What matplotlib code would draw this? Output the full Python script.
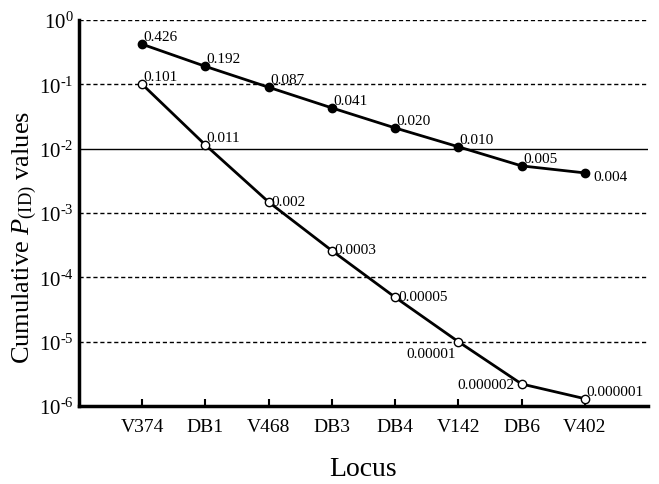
import matplotlib.pyplot as plt

plt.rcParams['font.family'] = 'Liberation Serif'
plt.rcParams['mathtext.fontset'] = 'custom'
plt.rcParams['mathtext.rm'] = 'Liberation Serif'
plt.rcParams['mathtext.it'] = 'Liberation Serif:italic'

loci = ['V374', 'DB1', 'V468', 'DB3', 'DB4', 'V142', 'DB6', 'V402']

# valores acumulados (circulos llenos)
filled_vals = [0.42, 0.19, 0.09, 0.043, 0.021, 0.0107, 0.0054, 0.0042]
filled_txt = ['0.426', '0.192', '0.087', '0.041', '0.020', '0.010', '0.005', '0.004']

# valores acumulados (circulos abiertos)
open_vals = [0.1, 0.0114, 0.00148, 0.00026, 0.000049, 0.00001, 0.0000022, 0.0000013]
open_txt = ['0.101', '0.011', '0.002', '0.0003', '0.00005', '0.00001', '0.000002', '0.000001']

exps = [-6, -5, -4, -3, -2, -1, 0]

x = list(range(1, len(loci) + 1))

fig = plt.figure(figsize=(6.59, 4.85), dpi=100)
ax = fig.add_axes([79 / 659, 1 - 407 / 485, (648 - 79) / 659, (407 - 21) / 485])

# lineas horizontales por decada
for e in exps[1:]:
    if e == -2:
        ax.axhline(10.0 ** e, color='black', lw=1.0, zorder=1)
    else:
        ax.axhline(10.0 ** e, color='black', lw=1.0, ls=(0, (3, 2)), zorder=1)

ax.plot(x, filled_vals, 'k-', lw=2, marker='o', ms=6, mfc='black', mec='black', zorder=3)
ax.plot(x, open_vals, 'k-', lw=2, marker='o', ms=6, mfc='white', mec='black', mew=1, zorder=3)

for xi, v, t in zip(x, filled_vals, filled_txt):
    if t == '0.004':
        ax.annotate(t, (xi, v), xytext=(6, -5), textcoords='offset points', fontsize=11)
    else:
        ax.annotate(t, (xi, v), xytext=(1, 3), textcoords='offset points', fontsize=11)

for xi, v, t in zip(x, open_vals, open_txt):
    if t == '0.00001':
        ax.annotate(t, (xi, v), xytext=(-2, -11), textcoords='offset points', fontsize=11, ha='right')
    elif t == '0.000002':
        ax.annotate(t, (xi, v), xytext=(-5, -3), textcoords='offset points', fontsize=11, ha='right')
    elif t in ('0.101', '0.011', '0.000001'):
        ax.annotate(t, (xi, v), xytext=(1, 3), textcoords='offset points', fontsize=11)
    else:
        ax.annotate(t, (xi, v), xytext=(2, -2), textcoords='offset points', fontsize=11)

ax.set_yscale('log')
ax.set_ylim(1e-6, 1)
ax.set_xlim(0, 9)
ax.set_xticks(x)
ax.set_xticklabels(loci, fontsize=14)
ax.set_yticks([10.0 ** e for e in exps])
ax.set_yticklabels([r'$10^{\text{-}%d}$' % -e if e < 0 else r'$10^{0}$' for e in exps], fontsize=15)
ax.minorticks_off()
ax.tick_params(axis='x', direction='in', length=5, width=1.5, pad=9)
ax.tick_params(axis='y', direction='in', length=0, pad=4)

ax.spines['top'].set_visible(False)
ax.spines['right'].set_visible(False)
ax.spines['left'].set_linewidth(2.5)
ax.spines['bottom'].set_linewidth(2.5)

ax.set_xlabel('Locus', fontsize=20)
ax.xaxis.set_label_coords(0.5, -0.13)
ax.set_ylabel(r'Cumulative $P_{\mathrm{(ID)}}$ values', fontsize=19)
ax.yaxis.set_label_coords(-0.07, 0.44)

plt.savefig('out.png', dpi=100)
